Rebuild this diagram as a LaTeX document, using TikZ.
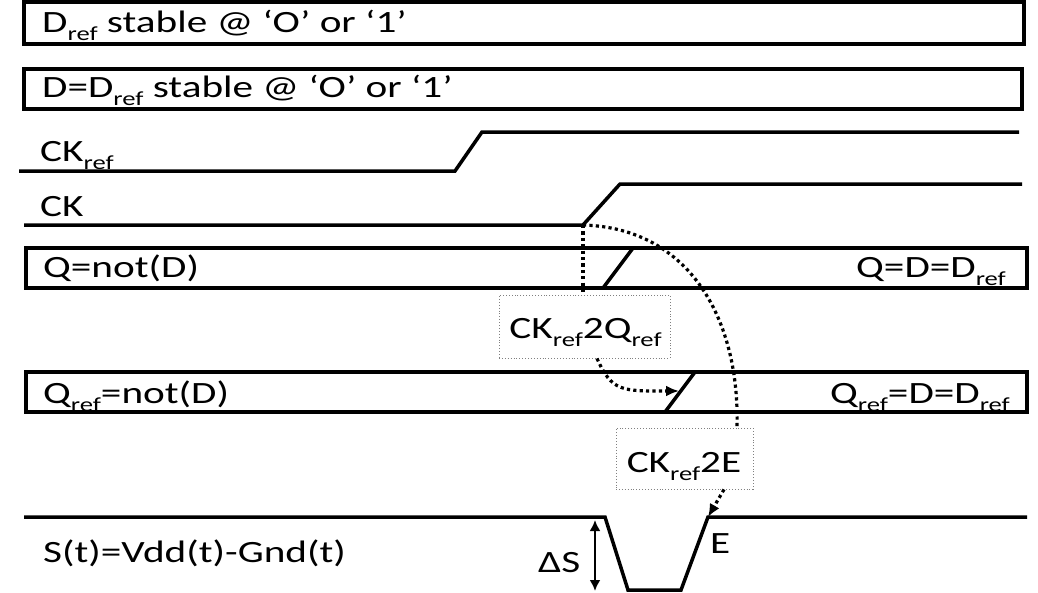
\documentclass[tikz,border=0pt]{standalone}
\usepackage{fontspec}
\setmainfont{Carlito}[FakeStretch=1.33]
\usetikzlibrary{arrows.meta,calc}
\newcommand\rf{\raisebox{-8pt}{\fontsize{20}{20}\selectfont ref}}
\begin{document}
\begin{tikzpicture}[x=1pt,y=-1pt,
  font=\fontsize{31}{37}\selectfont,
  sig/.style={line width=3.5pt,line join=miter},
  lab/.style={inner sep=0pt,anchor=base west},
  labr/.style={inner sep=0pt,anchor=base east},
  labc/.style={inner sep=0pt,anchor=base},
  dbox/.style={draw=gray,dotted,line width=0.9pt,inner sep=0pt},
  conn/.style={line width=3.2pt,dash pattern=on 3.2pt off 3.2pt},
  tip/.style={-{Latex[length=13pt,width=11pt]}}]
\useasboundingbox (0,0) rectangle (1038,592);
% D_ref
\draw[sig] (24,2) rectangle (1024,44);
\node[lab] (d1) at (42,32) {D\rf\ stable @ ‘O’ or ‘1’};
% D
\draw[sig] (24,69) rectangle (1022,109);
\node[lab] (d2) at (42,97) {D=D\rf\ stable @ ‘O’ or ‘1’};
% CK_ref
\draw[sig] (19,171) -- (455,171) -- (482,132) -- (1019,132);
\node[lab] (ck1) at (40,161) {CK\rf};
% CK
\coordinate (ckc) at (583,225);
\draw[sig] (24,225) -- (ckc) -- (620,184) -- (1022,184);
\node[lab] (ck2) at (40,216) {CK};
% Q
\draw[sig] (26,248) rectangle (1027,288);
\draw[sig] (603,288) -- (633,248);
\node[lab] (q1) at (43,277) {Q=not(D)};
\node[labr] (q2) at (1006,277) {Q=D=D\rf};
% Q_ref
\draw[sig] (26,372) rectangle (1027,412);
\draw[sig] (665,412) -- (695,372);
\coordinate (qd) at (679,391);
\node[lab] (qr1) at (43,403) {Q\rf=not(D)};
\node[labr] (qr2) at (1010,403) {Q\rf=D=D\rf};
% S(t)
\coordinate (epk) at (708,517);
\draw[sig] (24,517) -- (605,517) -- (628,590) -- (681,590) -- (epk) -- (1027,517);
\node[lab] (s) at (43,562) {S(t)=Vdd(t)-Gnd(t)};
\node[lab] (ds) at (538,572) {ΔS};
\coordinate (dsa) at (595,520);
\coordinate (dsb) at (595,591);
\draw[line width=2.8pt,{Latex[length=11pt,width=11pt]}-{Latex[length=11pt,width=11pt]}] (dsa) -- (dsb);
\node[lab] (e) at (710,553) {E};
% delay boxes
\node[dbox,minimum width=171pt,minimum height=63pt] (b1) at (584.5,326.5) {};
\node[labc] (t1) at (585.5,338) {CK\rf 2Q\rf};
\node[dbox,minimum width=137pt,minimum height=61pt] (b2) at (684.5,458.5) {};
\node[labc] (t2) at (684,472) {CK\rf 2E};
% connectors
\draw[conn] (ckc) -- (ckc |- b1.north);
\draw[conn] (ckc) .. controls (690,228) and (740,320) .. ($(b2.north)+(52.5,0)$);
\draw[conn,tip] ($(b1.south)+(12.5,0)$) .. controls (612,392) and (622,391) .. (qd);
\draw[conn,tip] ($(b2.south)+(39.5,0)$) -- (epk);
\end{tikzpicture}
\end{document}
